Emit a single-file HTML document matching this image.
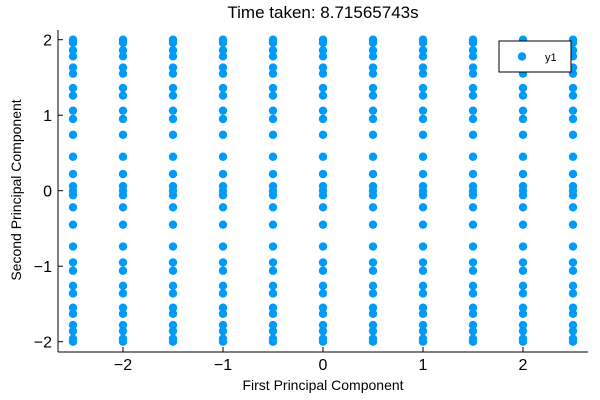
<!DOCTYPE html>
<html><head><meta charset="utf-8"><style>
body{margin:0;background:#fff;}
svg{display:block;font-family:"Liberation Sans","DejaVu Sans",sans-serif;}
</style></head><body>
<svg id="chart" width="600" height="400">
<text x="323" y="18" text-anchor="middle" font-size="17" fill="#000">Time taken: 8.71565743s</text>
<g id="axes"></g>
<g id="points"></g>
<g>
<rect x="499" y="41" width="72" height="31" fill="#fff" stroke="#000" stroke-width="1"/>
<circle cx="522" cy="56.5" r="4.2" fill="#009af9"/>
<text x="545" y="61" font-size="11" fill="#000">y1</text>
</g>
<text x="323" y="390" text-anchor="middle" font-size="14" fill="#000">First Principal Component</text>
<text transform="translate(21,190) rotate(-90)" text-anchor="middle" font-size="14" fill="#000">Second Principal Component</text>
</svg>
<script>
const xValues=[-2.5,-2,-1.5,-1,-0.5,0,0.5,1,1.5,2,2.5];
const yValues=[2.0,1.96,1.86,1.78,1.63,1.55,1.36,1.26,1.06,0.95,0.74,0.45,0.22,0.06,0,-0.06,-0.22,-0.45,-0.74,-0.95,-1.06,-1.26,-1.36,-1.55,-1.63,-1.78,-1.86,-1.96,-2.0];
const xTicks=[-2,-1,0,1,2];
const yTicks=[-2,-1,0,1,2];
const xTickLabels=["\u22122","\u22121","0","1","2"];
const yTickLabels=["\u22122","\u22121","0","1","2"];
const NS="http://www.w3.org/2000/svg";
const sx=v=>323+v*100;
const sy=v=>190.7-v*75.5;
const axes=document.getElementById('axes');
function mk(tag,attrs,parent){const e=document.createElementNS(NS,tag);for(const k in attrs)e.setAttribute(k,attrs[k]);parent.appendChild(e);return e;}
let l=mk('line',{x1:58,y1:352,x2:588,y2:352,stroke:'#000','stroke-width':1},axes);


l=mk('line',{x1:58,y1:30,x2:58,y2:352,stroke:'#000','stroke-width':1},axes);


xTicks.forEach((t,i)=>{
 const tk=mk('line',{x1:sx(t),y1:352,x2:sx(t),y2:347,stroke:'#000'},axes);
 
 
 const tx=mk('text',{x:sx(t),y:370,'text-anchor':'middle','font-size':16,fill:'#000'},axes);
 tx.textContent=xTickLabels[i];
 
 
});
yTicks.forEach((t,i)=>{
 const tk=mk('line',{x1:58,y1:sy(t),x2:63,y2:sy(t),stroke:'#000'},axes);
 
 
 const tx=mk('text',{x:52,y:sy(t)+6,'text-anchor':'end','font-size':16,fill:'#000'},axes);
 tx.textContent=yTickLabels[i];
 
 
});
const pts=document.getElementById('points');
xValues.forEach(x=>{yValues.forEach(y=>{
 const c=mk('circle',{cx:sx(x),cy:sy(y),r:4.2,fill:'#009af9'},pts);
 
 
});});
</script>
</body></html>
